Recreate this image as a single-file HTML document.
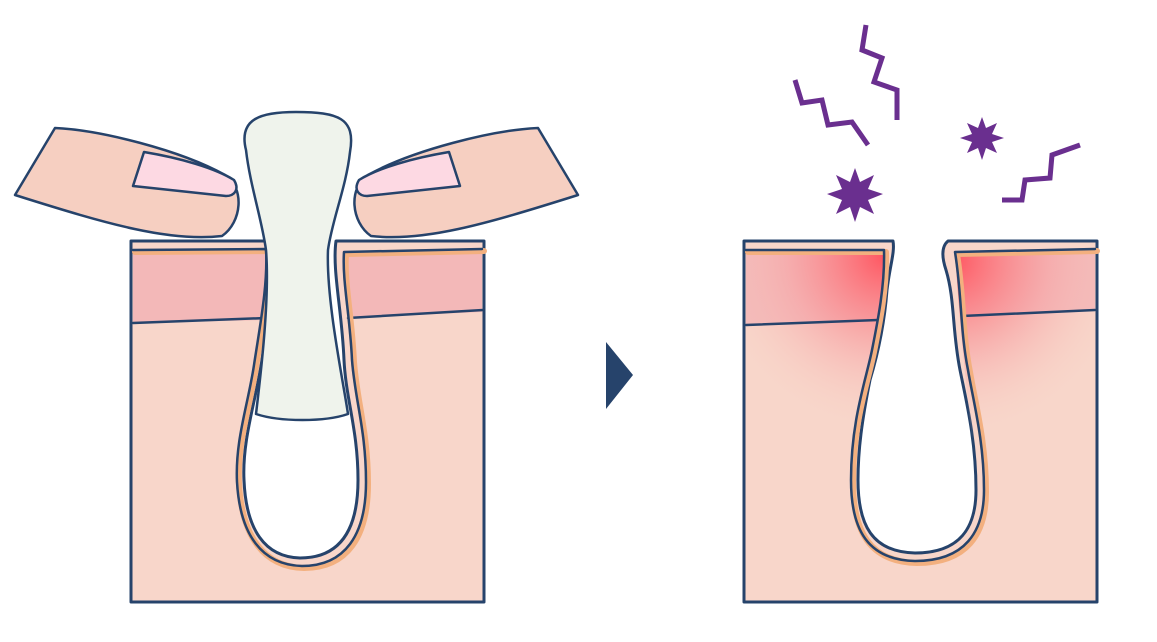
<!DOCTYPE html>
<html><head><meta charset="utf-8"><style>html,body{margin:0;padding:0;background:#fff}svg{display:block}</style></head>
<body>
<svg width="1157" height="642" viewBox="0 0 1157 642" xmlns="http://www.w3.org/2000/svg">
<defs>
<radialGradient id="gL" cx="885" cy="255" r="180" gradientUnits="userSpaceOnUse">
<stop offset="0" stop-color="#ff5560"/><stop offset="0.55" stop-color="#f7a7a8" stop-opacity="0.6"/><stop offset="1" stop-color="#f8d6ca" stop-opacity="0"/></radialGradient>
<radialGradient id="gR" cx="952" cy="260" r="180" gradientUnits="userSpaceOnUse">
<stop offset="0" stop-color="#ff5560"/><stop offset="0.55" stop-color="#f7a7a8" stop-opacity="0.6"/><stop offset="1" stop-color="#f8d6ca" stop-opacity="0"/></radialGradient>
</defs>

<!-- LEFT PANEL -->
<g stroke-linejoin="round" stroke-linecap="round">
<path d="M131,241 L273,241 C276,280 268,320 262,360 C256,400 242,440 244,480 C246,530 265,557 300,558 C340,558 358,530 358,480 C358,430 346,400 344,360 C342,310 332,270 336,241 L484,241 L484,602 L131,602 Z" fill="#f8d6ca" stroke="#26436b" stroke-width="3"/>
<path d="M133,250 L268,250 L264,320 L133,323 Z" fill="#f3b8b8"/>
<path d="M344,252 L482,249 L482,312 L348,318 Z" fill="#f3b8b8"/>
<path d="M133,323 L266,318 M348,318 L483,310" fill="none" stroke="#26436b" stroke-width="2.5"/>
<path d="M133,250 L266,249 C268,285 260,325 254,365 C248,405 235,440 237,482 C240,535 262,565 302,566 C345,566 366,535 366,482 C366,430 355,400 352,360 C350,315 342,280 344,252 L482,249" fill="none" stroke="#f3b07f" stroke-width="6" transform="translate(2,2)"/>
<path d="M133,250 L266,249 C268,285 260,325 254,365 C248,405 235,440 237,482 C240,535 262,565 302,566 C345,566 366,535 366,482 C366,430 355,400 352,360 C350,315 342,280 344,252 L482,249" fill="none" stroke="#26436b" stroke-width="2.5"/>
<!-- plug -->
<path d="M246,150 C238,118 262,112 296,112 C338,112 356,118 350,152 C346,188 332,220 328,250 C326,300 343,380 348,414 C325,422 280,422 256,414 C260,380 270,300 266,250 C262,220 250,185 246,150 Z" fill="#eff3ec" stroke="#26436b" stroke-width="2.5"/>
<!-- fingers -->
<path d="M15,195 L55,128 C100,130 180,150 225,175 C245,188 242,222 222,236 C170,242 110,225 15,195 Z" fill="#f6cfc1" stroke="#26436b" stroke-width="2.5"/>
<path d="M133,186 L144,152 C180,158 215,168 234,180 C240,190 234,196 226,196 Z" fill="#fdd9e3" stroke="#26436b" stroke-width="2.5"/>
<path d="M578,195 L538,128 C493,130 413,150 368,175 C348,188 351,222 371,236 C423,242 483,225 578,195 Z" fill="#f6cfc1" stroke="#26436b" stroke-width="2.5"/>
<path d="M460,186 L449,152 C413,158 378,168 359,180 C353,190 359,196 367,196 Z" fill="#fdd9e3" stroke="#26436b" stroke-width="2.5"/>
</g>

<!-- ARROW -->
<polygon points="606,342 633,375 606,409" fill="#26436b"/>

<!-- RIGHT PANEL -->
<g stroke-linejoin="round" stroke-linecap="round">
<path d="M744,241 L893,241 C895,252 890,265 887,290 C884,330 876,360 870,380 C862,420 858,450 858,480 C858,525 872,552 915,553 C960,553 976,528 976,490 C976,440 966,400 960,370 C952,330 955,300 946,270 C941,255 942,246 948,241 L1097,241 L1097,602 L744,602 Z" fill="#f8d6ca" stroke="#26436b" stroke-width="3"/>
<path d="M746,250 L884,250 L880,320 L746,325 Z" fill="#f3b8b8"/>
<path d="M955,252 L1095,249 L1095,310 L962,316 Z" fill="#f3b8b8"/>
<path d="M746,250 L884,250 C884,290 878,330 872,360 L858,440 L746,440 Z" fill="url(#gL)"/>
<path d="M955,252 L1095,249 L1095,440 L972,440 C968,400 960,330 955,252 Z" fill="url(#gR)"/>
<path d="M746,325 L878,320 M962,316 L1095,310" fill="none" stroke="#26436b" stroke-width="2.5"/>
<path d="M746,250 L884,250 C885,285 878,320 872,350 C866,380 851,420 851,480 C851,530 868,560 915,561 C965,561 984,532 984,490 C984,440 973,400 968,370 C960,330 962,295 955,252 L1095,249" fill="none" stroke="#f3b07f" stroke-width="6" transform="translate(2,2)"/>
<path d="M746,250 L884,250 C885,285 878,320 872,350 C866,380 851,420 851,480 C851,530 868,560 915,561 C965,561 984,532 984,490 C984,440 973,400 968,370 C960,330 962,295 955,252 L1095,249" fill="none" stroke="#26436b" stroke-width="2.5"/>
</g>

<g fill="none" stroke="#6a2f8f" stroke-width="5" stroke-linejoin="miter">
<polyline points="795,80 802,103 822,100 828,125 852,122 868,145"/>
<polyline points="866,25 862,50 882,58 874,82 897,90 897,120"/>
<polyline points="1002,200 1022,200 1025,180 1050,178 1052,155 1080,145"/>
</g>
<g fill="#6a2f8f">
<polygon points="855,168 860,182 874,175 868,189 883,194 868,200 874,214 860,207 855,222 850,207 836,214 842,200 827,194 842,189 836,175 850,182"/>
<polygon points="982,117 986,128 997,123 992,134 1004,138 992,142 997,153 986,148 982,160 978,148 967,153 972,142 960,138 972,134 967,123 978,128"/>
</g>
</svg>
</body></html>
